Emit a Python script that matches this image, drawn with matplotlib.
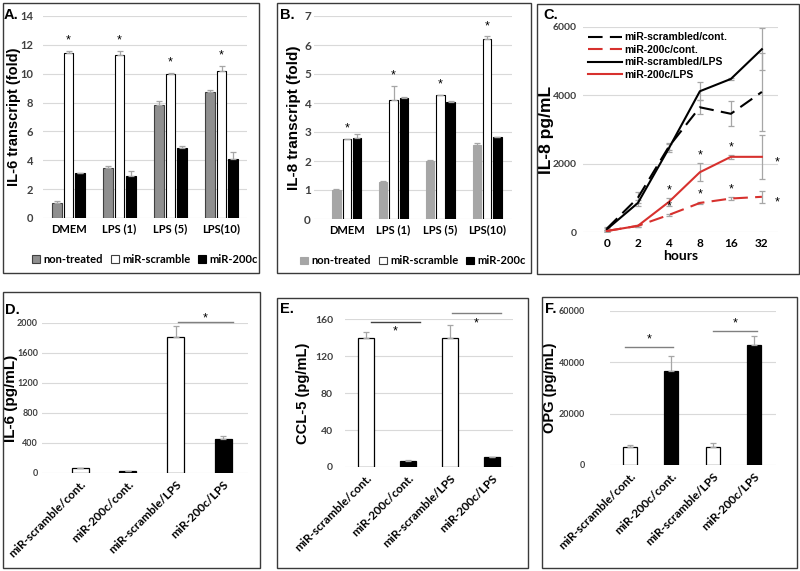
import matplotlib.pyplot as plt
from matplotlib.patches import Patch, Rectangle
import numpy as np

W, H = 800, 571

# ---- panel A: IL-6 transcript ----
groups = ["DMEM", "LPS (1)", "LPS (5)", "LPS(10)"]
a_nontreated = [1.04, 3.45, 7.8, 8.7]
a_nontreated_err = [0.15, 0.12, 0.3, 0.17]
a_scramble = [11.45, 11.3, 9.97, 10.16]
a_scramble_err = [0.15, 0.3, 0.1, 0.4]
a_200c = [3.1, 2.93, 4.84, 4.08]
a_200c_err = [0.03, 0.33, 0.18, 0.46]

# ---- panel B: IL-8 transcript ----
b_nontreated = [1.0, 1.27, 2.0, 2.55]
b_nontreated_err = [0.05, 0.03, 0.02, 0.06]
b_scramble = [2.75, 4.1, 4.27, 6.2]
b_scramble_err = [0.02, 0.5, 0.02, 0.1]
b_200c = [2.8, 4.18, 4.03, 2.83]
b_200c_err = [0.12, 0.01, 0.03, 0.01]

# ---- panel C: IL-8 time course ----
hours = ["0", "2", "4", "8", "16", "32"]
c_scr_cont = [100, 1000, 2500, 3650, 3460, 4100]
c_scr_cont_err = [50, 160, 100, 200, 370, 1150]
c_200c_cont = [30, 180, 500, 850, 980, 1030]
c_200c_cont_err = [20, 20, 40, 30, 50, 170]
c_scr_lps = [80, 850, 2450, 4120, 4480, 5350]
c_scr_lps_err = [50, 100, 120, 270, 40, 620]
c_200c_lps = [30, 180, 880, 1750, 2200, 2200]
c_200c_lps_err = [20, 20, 120, 270, 50, 640]

# ---- panels D-F: secreted proteins ----
conds = ["miR-scramble/cont.", "miR-200c/cont.", "miR-scramble/LPS", "miR-200c/LPS"]
d_il6 = [70, 25, 1815, 455]
d_il6_err = [0, 0, 150, 45]
e_ccl5 = [140, 7, 140, 10.5]
e_ccl5_err = [6, 1, 13, 0.5]
f_opg = [7100, 36600, 7150, 46800]
f_opg_err = [700, 5900, 1250, 3500]

GRID = "#d9d9d9"
ERR = "#a6a6a6"
TICK = "#404040"
RED = "#d7312e"
LBL = "Liberation Sans"
CAT = "Lato"
NUM = ["Liberation Sans Narrow", "Lato"]

plt.rcParams["font.family"] = "Liberation Sans"
fig = plt.figure(figsize=(W / 100, H / 100), dpi=100)


def px_axes(l, t, r, b):
    ax = fig.add_axes([l / W, 1 - b / H, (r - l) / W, (b - t) / H])
    ax._px = (l, r)
    return ax


def ylabel_at(ax, text, xpx, size):
    l, r = ax._px
    ax.set_ylabel(text, fontsize=size, fontweight="bold", family=LBL,
                  va="center")
    ax.yaxis.set_label_coords((xpx - l) / (r - l), 0.5)


def frame(l, t, r, b):
    fig.patches.append(
        Rectangle((l / W, 1 - b / H), (r - l) / W, (b - t) / H,
                  transform=fig.transFigure, fill=False,
                  edgecolor="#3a3a3a", lw=1.0)
    )


def letter(x, y, s):
    fig.text(x / W, 1 - y / H, s, fontsize=10.5, fontweight="bold",
             family=LBL, va="top", ha="left")


def style(ax, ylim, yticks, xlim, pad_px, tsize):
    ax.set_ylim(*ylim)
    ax.set_xlim(*xlim)
    ax.set_yticks(yticks)
    for s in ax.spines.values():
        s.set_visible(False)
    ax.grid(axis="y", color=GRID, lw=0.8)
    ax.set_axisbelow(True)
    ax.tick_params(length=0, pad=4)
    ax.tick_params(axis="y", pad=pad_px * 0.72)
    for t in ax.get_yticklabels():
        t.set_fontweight("bold")
        t.set_family(NUM)
        t.set_fontsize(tsize)
        t.set_color(TICK)


def grouped(ax, data, errs, colors, edges, width, offsets):
    x = np.arange(len(groups))
    for vals, err, c, e, off in zip(data, errs, colors, edges, offsets):
        ax.bar(x + off, vals, width, color=c, edgecolor=e, lw=0.8, zorder=2)
        ax.errorbar(x + off, vals, yerr=[np.zeros(len(err)), err], fmt="none",
                    ecolor=ERR, elinewidth=0.9, capsize=2.2, capthick=0.9,
                    zorder=3)
    ax.set_xticks(x)
    ax.set_xticklabels(groups, fontsize=8, fontweight="bold", family=CAT)


def stars_above(ax, xs, vals, errs, dy=3):
    for xi, v, e in zip(xs, vals, errs):
        ax.annotate("*", (xi, v + e), xytext=(0, dy), textcoords="offset points",
                    ha="center", va="bottom", fontsize=9, family=LBL)


def bar_legend(ax, face, edge):
    handles = [Patch(facecolor=face[i], edgecolor=edge[i], lw=0.8)
               for i in range(3)]
    ax.legend(handles, ["non-treated", "miR-scramble", "miR-200c"],
              loc="upper center", bbox_to_anchor=(0.5, -0.13), ncol=3,
              frameon=False, handlelength=0.7, handleheight=0.7,
              handletextpad=0.3, columnspacing=0.7,
              prop={"family": CAT, "weight": "bold", "size": 8})


# ===== A =====
frame(3, 3, 259, 273)
letter(4, 8, "A.")
axA = px_axes(43, 16, 247, 218)
style(axA, (0, 14), range(0, 15, 2), (-0.5, 3.5), 10, 8)
grouped(axA, [a_nontreated, a_scramble, a_200c],
        [a_nontreated_err, a_scramble_err, a_200c_err],
        ["#8f8f8f", "white", "black"], ["#404040", "black", "black"],
        0.19, [-0.22, 0.0, 0.22])
stars_above(axA, np.arange(4), a_scramble, a_scramble_err)
ylabel_at(axA, "IL-6 transcript (fold)", 14, 10.5)
bar_legend(axA, ["#8f8f8f", "white", "black"], ["#404040", "#404040", "black"])

# ===== B =====
frame(277, 3, 531, 273)
letter(280, 8, "B.")
axB = px_axes(314, 16, 512, 219)
style(axB, (0, 7), range(0, 8), (-0.7, 3.53), 3, 8.5)
grouped(axB, [b_nontreated, b_scramble, b_200c],
        [b_nontreated_err, b_scramble_err, b_200c_err],
        ["#a6a6a6", "white", "black"], ["#a6a6a6", "black", "black"],
        0.18, [-0.22, 0.0, 0.22])
stars_above(axB, np.arange(4), b_scramble, b_scramble_err)
ylabel_at(axB, "IL-8 transcript (fold)", 294, 11)
bar_legend(axB, ["#a6a6a6", "white", "black"], ["#a6a6a6", "#404040", "black"])

# ===== C =====
frame(537, 4, 799, 274)
letter(543, 8, "C.")
axC = px_axes(583, 27, 778, 232)
style(axC, (0, 6000), range(0, 6001, 2000), (-0.77, 5.52), 6, 7.5)
xc = np.arange(len(hours))
series = [
    (c_scr_cont, c_scr_cont_err, "black", (0, (7, 3.5)), "miR-scrambled/cont."),
    (c_200c_cont, c_200c_cont_err, RED, (0, (7, 3.5)), "miR-200c/cont."),
    (c_scr_lps, c_scr_lps_err, "black", "-", "miR-scrambled/LPS"),
    (c_200c_lps, c_200c_lps_err, RED, "-", "miR-200c/LPS"),
]
handles = []
for vals, err, col, ls, lab in series:
    axC.errorbar(xc, vals, yerr=err, fmt="none", ecolor=ERR, elinewidth=0.9,
                 capsize=2.5, capthick=0.9, zorder=2)
    (ln,) = axC.plot(xc, vals, color=col, ls=ls, lw=1.5, zorder=3, label=lab)
    handles.append(ln)
for i in [2, 3, 4]:
    stars_above(axC, [i], [c_200c_lps[i]], [c_200c_lps_err[i]], dy=1)
    stars_above(axC, [i], [c_200c_cont[i]], [c_200c_cont_err[i]], dy=1)
for v in [c_200c_lps[5], c_200c_cont[5]]:
    axC.annotate("*", (5, v), xytext=(11, -4), textcoords="offset points",
                 ha="center", va="center", fontsize=9)
axC.set_xticks(xc)
axC.set_xticklabels(hours, fontsize=8.5, fontweight="bold", family=CAT)
axC.set_xlabel("hours", fontsize=10, fontweight="bold", family=CAT, labelpad=1)
ylabel_at(axC, "IL-8 pg/mL", 546, 12.5)
axC.legend(handles=handles, loc="upper left", bbox_to_anchor=(0.0, 1.0),
           frameon=False, handlelength=3.2, handletextpad=0.3,
           labelspacing=0.25, borderaxespad=0.1,
           prop={"family": LBL, "weight": "bold", "size": 7.5})


def single(ax, vals, errs, colors, width):
    x = np.arange(len(conds))
    ax.bar(x, vals, width, color=colors, edgecolor="black", lw=0.9, zorder=2)
    ax.errorbar(x, vals, yerr=[np.zeros(len(errs)), errs], fmt="none",
                ecolor=ERR, elinewidth=0.9, capsize=2.5, capthick=0.9, zorder=3)
    ax.set_xticks(x)
    ax.set_xticklabels(conds, rotation=45, ha="right", rotation_mode="anchor",
                       fontsize=8.5, fontweight="bold", family=CAT)


def sig(ax, x0, x1, y, ys, col="#808080"):
    ax.plot([x0, x1], [y, y], color=col, lw=1.0, clip_on=False, zorder=4)
    ax.text((x0 + x1) / 2, ys, "*", ha="center", va="center", fontsize=9,
            clip_on=False)


bar_cols = ["white", "black", "white", "black"]

# ===== D =====
frame(3, 292, 260, 568)
letter(5, 303, "D.")
axD = px_axes(42, 323, 248, 473)
style(axD, (0, 2000), range(0, 2001, 400), (-0.8, 3.52), 4, 6.5)
single(axD, d_il6, d_il6_err, bar_cols, 0.36)
sig(axD, 2.05, 3.2, 2010, 2060)
ylabel_at(axD, "IL-6 (pg/mL)", 11, 11)

# ===== E =====
frame(277, 298, 528, 568)
letter(280, 302, "E.")
axE = px_axes(345, 319, 513, 467)
style(axE, (0, 160), range(0, 161, 40), (-0.5, 3.5), 12, 7.5)
single(axE, e_ccl5, e_ccl5_err, bar_cols, 0.36)
sig(axE, 0.12, 1.29, 157, 147, col="#404040")
sig(axE, 2.05, 3.21, 167, 155)
ylabel_at(axE, "CCL-5 (pg/mL)", 303, 10.5)

# ===== F =====
frame(542, 297, 797, 568)
letter(545, 302, "F.")
axF = px_axes(610, 311, 776, 465)
style(axF, (0, 60000), range(0, 60001, 20000), (-0.48, 3.53), 25, 6.5)
single(axF, f_opg, f_opg_err, bar_cols, 0.34)
sig(axF, -0.12, 1.04, 46100, 48800)
sig(axF, 2.0, 3.07, 52300, 55300)
ylabel_at(axF, "OPG (pg/mL)", 550, 10.5)

fig.savefig("out.png", dpi=100)
